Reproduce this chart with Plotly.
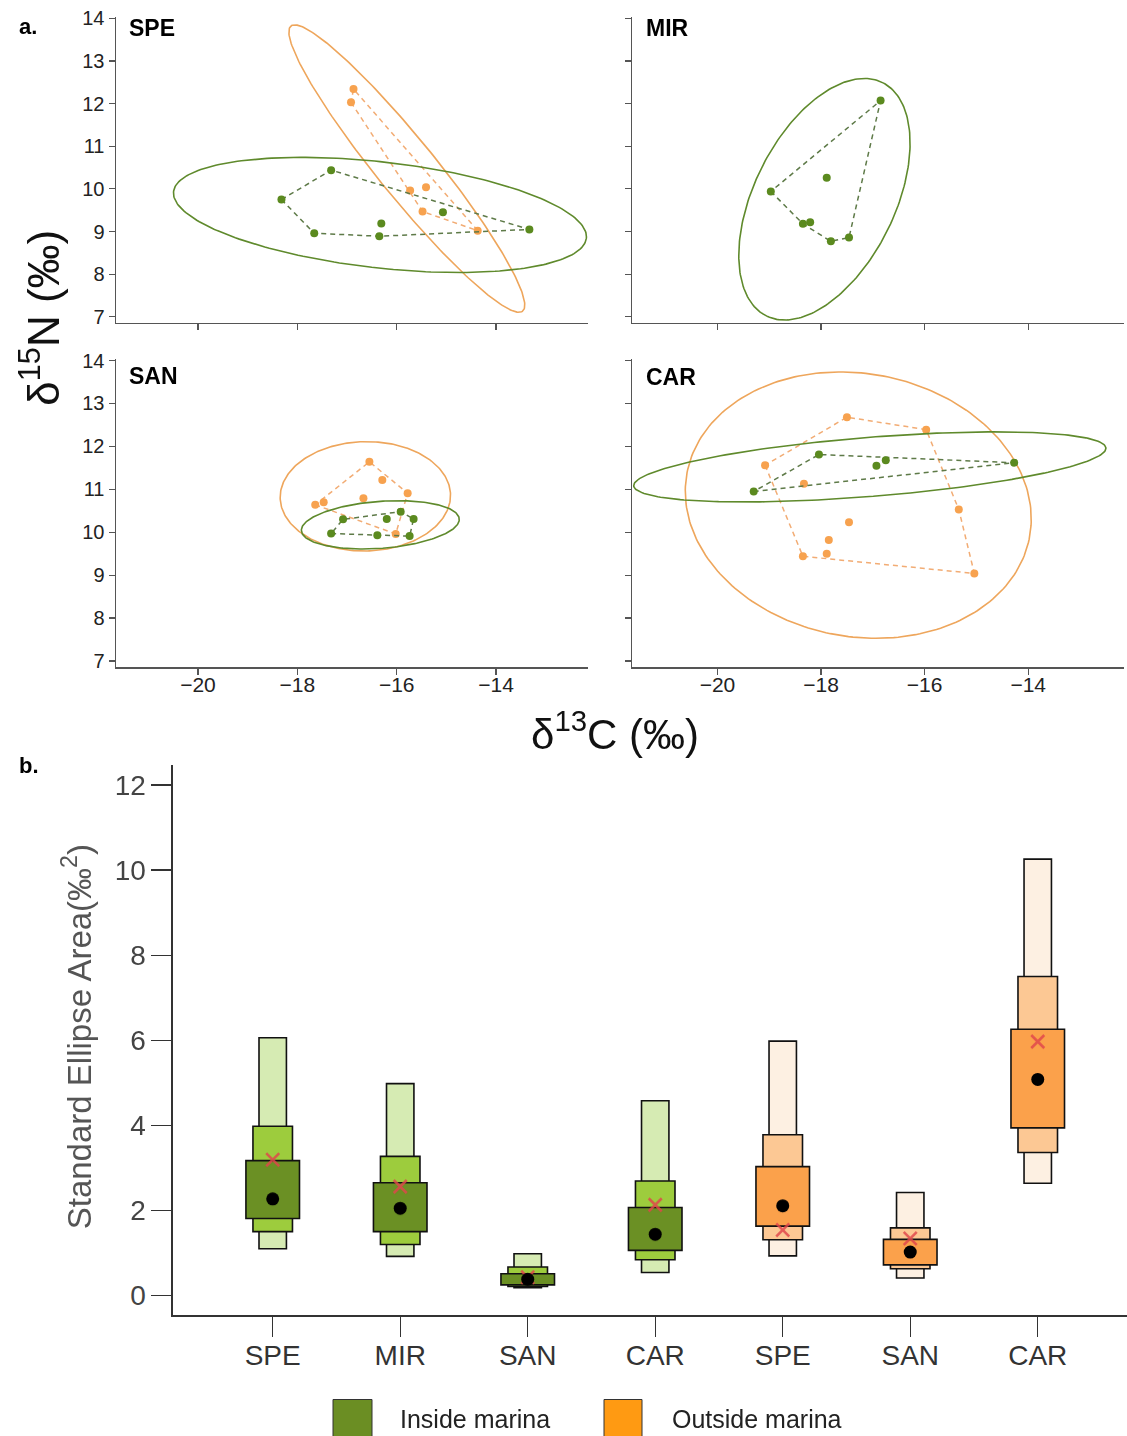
import numpy as np
import plotly.graph_objects as go

# ---------------- Panel a data (delta13C, delta15N) ----------------
SPE_in_C = [-18.32, -17.32, -17.66, -16.35, -16.31, -15.07, -13.33]
SPE_in_N = [9.75, 10.44, 8.96, 8.89, 9.19, 9.45, 9.05]
SPE_out_C = [-16.87, -16.92, -15.73, -15.41, -15.48, -14.37]
SPE_out_N = [12.34, 12.03, 9.96, 10.04, 9.47, 9.02]
MIR_in_C = [-16.85, -18.97, -17.89, -18.35, -18.21, -17.81, -17.46]
MIR_in_N = [12.07, 9.94, 10.26, 9.18, 9.22, 8.77, 8.86]
SAN_in_C = [-17.32, -17.08, -16.39, -16.20, -15.92, -15.66, -15.74]
SAN_in_N = [9.97, 10.30, 9.93, 10.31, 10.48, 10.31, 9.91]
SAN_out_C = [-16.55, -16.29, -15.78, -16.67, -17.64, -17.47, -16.02]
SAN_out_N = [11.64, 11.22, 10.91, 10.79, 10.64, 10.70, 9.96]
CAR_in_C = [-19.30, -18.04, -16.93, -16.75, -14.27]
CAR_in_N = [10.95, 11.81, 11.55, 11.68, 11.62]
CAR_out_C = [-17.50, -15.97, -19.08, -18.33, -15.34, -17.46, -17.85, -17.89, -18.35, -15.04]
CAR_out_N = [12.68, 12.39, 11.56, 11.13, 10.53, 10.23, 9.82, 9.50, 9.44, 9.04]

x_ticks_a = [-20, -18, -16, -14]
y_ticks_a = [7, 8, 9, 10, 11, 12, 13, 14]

# ---------------- Panel b data (SEA posterior boxes) ----------------
groups_b = ["SPE", "MIR", "SAN", "CAR", "SPE", "SAN", "CAR"]
inside_flag = [1, 1, 1, 1, 0, 0, 0]
ci95_lo = [1.10, 0.92, 0.18, 0.54, 0.93, 0.41, 2.64]
ci95_hi = [6.06, 4.98, 0.98, 4.58, 5.98, 2.42, 10.26]
ci75_lo = [1.50, 1.20, 0.21, 0.84, 1.31, 0.63, 3.36]
ci75_hi = [3.98, 3.27, 0.67, 2.69, 3.78, 1.59, 7.50]
ci50_lo = [1.81, 1.50, 0.25, 1.06, 1.63, 0.72, 3.94]
ci50_hi = [3.17, 2.65, 0.51, 2.07, 3.03, 1.32, 6.26]
sea_mode = [2.27, 2.05, 0.38, 1.44, 2.11, 1.02, 5.08]
sea_c = [3.19, 2.56, 0.43, 2.13, 1.54, 1.34, 5.97]
y_ticks_b = [0, 2, 4, 6, 8, 10, 12]

# ---------------- styling ----------------
W, H = 1127, 1436
FONT = "Liberation Sans, Arial, sans-serif"
G_PT, G_ELL, G_HULL = "#5b8a1f", "#5f8a2c", "#5e7a48"
O_PT, O_ELL, O_HULL = "#f7a24f", "#eea65c", "#f2ac74"
GREEN_SH = ["#d6ebb3", "#9dcc3d", "#6b9024"]
ORANGE_SH = ["#fdf0e2", "#fcc894", "#fba14b"]
AX_COL = "#555555"


def px(x):
    return x / W


def py(y):
    # vertical placement correction observed in the rendered output
    yd = (y - 9.4) / 0.9896
    return 1 - yd / H


def hull(c, n):
    pts = sorted(set(zip(c, n)))

    def cross(o, a, b):
        return (a[0] - o[0]) * (b[1] - o[1]) - (a[1] - o[1]) * (b[0] - o[0])

    lower, upper = [], []
    for p in pts:
        while len(lower) >= 2 and cross(lower[-2], lower[-1], p) <= 0:
            lower.pop()
        lower.append(p)
    for p in reversed(pts):
        while len(upper) >= 2 and cross(upper[-2], upper[-1], p) <= 0:
            upper.pop()
        upper.append(p)
    h = lower[:-1] + upper[:-1]
    h.append(h[0])
    return [p[0] for p in h], [p[1] for p in h]


def ellipse(c, n, npts=240):
    X = np.vstack([c, n])
    mu = X.mean(axis=1)
    S = np.cov(X)
    vals, vecs = np.linalg.eigh(S)
    r = np.sqrt(5.991)
    t = np.linspace(0, 2 * np.pi, npts)
    circ = np.vstack([np.cos(t), np.sin(t)])
    pts = mu[:, None] + r * vecs @ (np.sqrt(vals)[:, None] * circ)
    return pts[0], pts[1]


fig = go.Figure()

panels = [
    ("x", "y", [(SPE_in_C, SPE_in_N, "in"), (SPE_out_C, SPE_out_N, "out")]),
    ("x2", "y2", [(MIR_in_C, MIR_in_N, "in")]),
    ("x3", "y3", [(SAN_in_C, SAN_in_N, "in"), (SAN_out_C, SAN_out_N, "out")]),
    ("x4", "y4", [(CAR_in_C, CAR_in_N, "in"), (CAR_out_C, CAR_out_N, "out")]),
]

for xa, ya, sets in panels:
    for c, n, kind in sorted(sets, key=lambda s: 0 if s[2] == "out" else 1):
        pc = G_PT if kind == "in" else O_PT
        ec = G_ELL if kind == "in" else O_ELL
        hc = G_HULL if kind == "in" else O_HULL
        ex, ey = ellipse(c, n)
        fig.add_trace(go.Scatter(x=ex, y=ey, mode="lines", xaxis=xa, yaxis=ya,
                                 line=dict(color=ec, width=1.6), hoverinfo="skip"))
        hx, hy = hull(c, n)
        fig.add_trace(go.Scatter(x=hx, y=hy, mode="lines", xaxis=xa, yaxis=ya,
                                 line=dict(color=hc, width=1.5, dash="5px,4px"), hoverinfo="skip"))
        fig.add_trace(go.Scatter(x=c, y=n, mode="markers", xaxis=xa, yaxis=ya,
                                 marker=dict(color=pc, size=8, line=dict(width=0))))

# ---------------- panel b ----------------
pos = list(range(len(groups_b)))
layers = [(ci95_lo, ci95_hi, 0, 0.215), (ci75_lo, ci75_hi, 1, 0.31), (ci50_lo, ci50_hi, 2, 0.42)]
for lo, hi, k, wd in layers:
    cols = [GREEN_SH[k] if f else ORANGE_SH[k] for f in inside_flag]
    fig.add_trace(go.Bar(x=pos, y=[h - l for l, h in zip(lo, hi)], base=lo, width=wd,
                         xaxis="x5", yaxis="y5",
                         marker=dict(color=cols, line=dict(color="#111111", width=1.6))))
fig.add_trace(go.Scatter(x=pos, y=sea_c, mode="markers", xaxis="x5", yaxis="y5",
                         marker=dict(symbol="x-thin", size=13, color="#e0474c",
                                     line=dict(color="#e0474c", width=2.6)), opacity=0.85))
fig.add_trace(go.Scatter(x=pos, y=sea_mode, mode="markers", xaxis="x5", yaxis="y5",
                         marker=dict(symbol="circle", size=13, color="black")))

# ---------------- axes ----------------
top_y = [17, 323]
bot_y = [359, 667]
left_x = [116, 588]
right_x = [632, 1124]
xr = [-21.65, -12.15]
yr = [6.86, 14.04]

common_x = dict(range=xr, tickvals=x_ticks_a, showline=True, linecolor=AX_COL, linewidth=1.5,
                ticks="outside", ticklen=6, tickcolor=AX_COL, tickwidth=1.2, showgrid=False,
                zeroline=False, ticklabelstandoff=-8,
                tickfont=dict(family=FONT, size=21, color="#222222"))
common_y = dict(range=yr, tickvals=y_ticks_a, showline=True, linecolor=AX_COL, linewidth=1.5,
                ticks="outside", ticklen=6, tickcolor=AX_COL, tickwidth=1.2, showgrid=False,
                zeroline=False, tickfont=dict(family=FONT, size=20, color="#222222"))

axes_def = {
    "": (left_x, top_y, False, True),
    "2": (right_x, top_y, False, False),
    "3": (left_x, bot_y, True, True),
    "4": (right_x, bot_y, True, False),
}
layout_axes = {}
for sfx, (xx, yy, xlab, ylab) in axes_def.items():
    layout_axes["xaxis" + sfx] = dict(common_x, domain=[px(xx[0]), px(xx[1])],
                                      anchor="y" + sfx, showticklabels=xlab)
    layout_axes["yaxis" + sfx] = dict(common_y, domain=[py(yy[1]), py(yy[0])],
                                      anchor="x" + sfx, showticklabels=ylab)

b_x = [173, 1127]
b_y = [765, 1315]
layout_axes["xaxis5"] = dict(domain=[px(b_x[0]), px(b_x[1])], anchor="y5", range=[-0.782, 6.70],
                             tickvals=pos, ticktext=groups_b, showline=True, linecolor="#333333",
                             linewidth=1.6, ticks="outside", ticklen=20, tickcolor="#333333",
                             tickwidth=1.4, showgrid=False, zeroline=False, ticklabelstandoff=-6,
                             tickfont=dict(family=FONT, size=28, color="#333333"))
layout_axes["yaxis5"] = dict(domain=[py(b_y[1]), py(b_y[0])], anchor="x5", range=[-0.47, 12.47],
                             tickvals=y_ticks_b, showline=True, linecolor="#333333", linewidth=1.6,
                             ticks="outside", ticklen=20, tickcolor="#333333", tickwidth=1.4,
                             showgrid=False, zeroline=False,
                             tickfont=dict(family=FONT, size=28, color="#444444"))

ann = []


def add_text(text, x, y, size, bold=False, color="black", xanchor="left", angle=0):
    ann.append(dict(text=("<b>%s</b>" % text) if bold else text, x=px(x), y=py(y),
                    xref="paper", yref="paper", xanchor=xanchor, yanchor="middle",
                    showarrow=False, textangle=angle,
                    font=dict(family=FONT, size=size, color=color)))


add_text("a.", 17, 27, 22, bold=True)
add_text("b.", 17, 765, 22, bold=True)
add_text("SPE", 127, 28, 23, bold=True)
add_text("MIR", 644, 28, 23, bold=True)
add_text("SAN", 127, 376, 23, bold=True)
add_text("CAR", 644, 377, 23, bold=True)
add_text("δ<sup>15</sup>N (‰)", 40, 318, 44, xanchor="center", angle=-90, color="#111111")
add_text("δ<sup>13</sup>C (‰)", 615, 731, 42, xanchor="center", color="#111111")
add_text("Standard Ellipse Area(‰<sup>2</sup>)", 77, 1037, 33, xanchor="center", angle=-90,
         color="#555555")
add_text("Inside marina", 398, 1418, 25, color="#222222")
add_text("Outside marina", 670, 1418, 25, color="#222222")

shapes = [
    dict(type="rect", xref="paper", yref="paper", x0=px(333), x1=px(372), y0=py(1445), y1=py(1399),
         fillcolor="#6b8e23", line=dict(color="#333333", width=1)),
    dict(type="rect", xref="paper", yref="paper", x0=px(604), x1=px(642), y0=py(1445), y1=py(1399),
         fillcolor="#ff9a12", line=dict(color="#333333", width=1)),
]

fig.update_layout(width=W, height=H, autosize=False, margin=dict(l=0, r=0, t=0, b=0, pad=0),
                  showlegend=False, paper_bgcolor="white", plot_bgcolor="white", barmode="overlay",
                  annotations=ann, shapes=shapes, font=dict(family=FONT), **layout_axes)

fig.write_html(
    "out.html",
    config={"displayModeBar": False, "staticPlot": True},
    post_script=("document.documentElement.style.margin='0px';"
                 "document.documentElement.style.overflow='hidden';"
                 "document.body.style.margin='0px';document.body.style.padding='0px';"
                 "document.body.style.overflow='hidden';"),
)
